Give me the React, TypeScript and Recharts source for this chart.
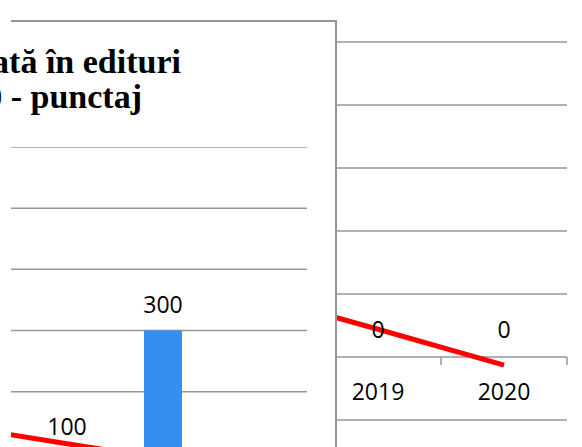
import { ComposedChart, Bar, Line, XAxis, YAxis, CartesianGrid, LabelList } from 'recharts';

// front panel (clipped chart)
const leftCats = ['2017', '2018', '2019', '2020'];
const leftBars = [0, 100, 300, 0];
const leftTrend = [140, 115, 90, 65];
const leftTicks = [0, 100, 200, 300, 400, 500, 600];

// background chart
const rightCats = ['2018', '2019', '2020'];
const rightBars = [0, 0, 0];
const rightTrend = [100, 44, -13];
const rightTicks = [-100, 0, 100, 200, 300, 400, 500];

const titleLines = ['Carte publicată în edituri', '2017-2020 - punctaj'];

const GRID = '#969696';
const RED = '#ff0000';
const BLUE = '#338ff0';
const LABEL_FONT = { fontFamily: 'Open Sans', fontSize: 23, fill: '#000' };

const leftData = leftCats.map((c, i) => ({ year: c, value: leftBars[i], trend: leftTrend[i] }));
const rightData = rightCats.map((c, i) => ({ year: c, value: rightBars[i], trend: rightTrend[i] }));

const R_PLOT_H = 378;
const R_BAND = 126;
const TICK_GAP = 8; // recharts' default tickSize + tickMargin added to tick y
const zeroOffset = (R_PLOT_H * (0 - rightTicks[0])) / (rightTicks[rightTicks.length - 1] - rightTicks[0]);

// x axis sits on the zero line, so ticks are drawn up from the bottom of the plot
function YearTick(props: any) {
  const { x, y, payload } = props;
  const axisY = y - TICK_GAP - zeroOffset;
  return (
    <g>
      <line x1={x + R_BAND / 2} x2={x + R_BAND / 2} y1={axisY} y2={axisY + 8} stroke={GRID} strokeWidth={1.5} />
      <text x={x} y={axisY + 43} textAnchor="middle" {...LABEL_FONT}>
        {payload.value}
      </text>
    </g>
  );
}

export default function App() {
  return (
    <div style={{ position: 'absolute', left: 0, top: 0, width: 582, height: 447, overflow: 'hidden', background: '#fff' }}>
      <div style={{ position: 'absolute', left: 0, top: 0 }}>
        <ComposedChart width={582} height={447} data={rightData} margin={{ top: 42, right: 15, left: 189, bottom: 0 }}>
          <CartesianGrid vertical={false} stroke={GRID} strokeWidth={1.5} />
          <XAxis dataKey="year" height={27} axisLine={false} tickLine={false} tick={<YearTick />} interval={0} />
          <YAxis hide width={0} domain={[-100, 500]} ticks={rightTicks} />
          <Bar dataKey="value" fill={BLUE} barSize={38} isAnimationActive={false} />
          {/* zero-height bars draw no label, so the values are labelled from an invisible series */}
          <Line dataKey="value" stroke="none" dot={false} legendType="none" isAnimationActive={false}>
            <LabelList dataKey="value" position="top" offset={19} style={LABEL_FONT} />
          </Line>
          <Line dataKey="trend" stroke={RED} strokeWidth={5} dot={false} isAnimationActive={false} />
        </ComposedChart>
      </div>

      {/* front panel */}
      <div style={{ position: 'absolute', left: 0, top: 20, width: 336, height: 427, background: '#fff' }} />
      <div style={{ position: 'absolute', left: 11, top: 20, width: 326, height: 2, background: GRID }} />
      <div style={{ position: 'absolute', left: 335, top: 20, width: 2, height: 427, background: GRID }} />

      <svg style={{ position: 'absolute', left: 0, top: 0 }} width={336} height={130}>
        <text x={181} y={73} textAnchor="end" fontFamily="Liberation Serif" fontWeight="bold" fontSize={34} fill="#000">
          {titleLines[0]}
        </text>
        <text x={142} y={108} textAnchor="end" fontFamily="Liberation Serif" fontWeight="bold" fontSize={34} fill="#000">
          {titleLines[1]}
        </text>
      </svg>

      <div style={{ position: 'absolute', left: 11, top: 22, width: 324, height: 425, overflow: 'hidden' }}>
        <div style={{ position: 'absolute', left: -88, top: 125 }}>
          <ComposedChart width={384} height={367} data={leftData} margin={{ top: 0, right: 0, left: 0, bottom: 0 }}>
            <CartesianGrid vertical={false} stroke={GRID} strokeWidth={1.5} />
            <XAxis dataKey="year" hide />
            <YAxis hide width={0} domain={[0, 600]} ticks={leftTicks} />
            <Bar dataKey="value" fill={BLUE} barSize={38} isAnimationActive={false}>
              <LabelList dataKey="value" position="top" offset={18} style={LABEL_FONT} />
            </Bar>
            <Line dataKey="trend" stroke={RED} strokeWidth={5} dot={false} isAnimationActive={false} />
          </ComposedChart>
        </div>
      </div>
    </div>
  );
}
